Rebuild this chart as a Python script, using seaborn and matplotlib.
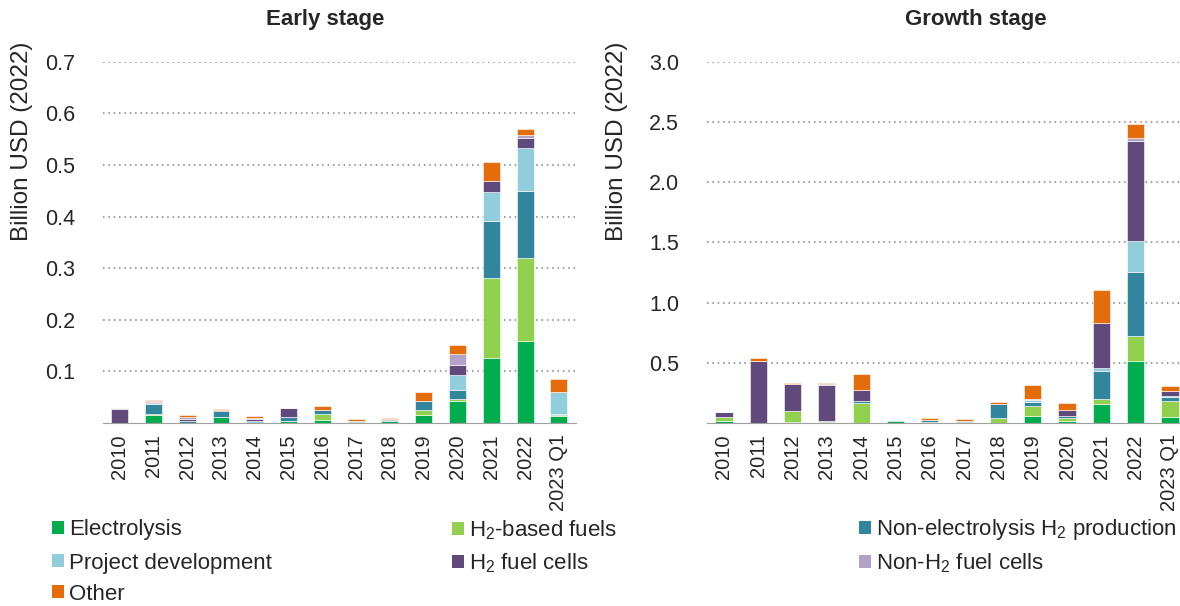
import numpy as np
import pandas as pd
import seaborn as sns
import matplotlib.pyplot as plt
from matplotlib.patches import Patch
from matplotlib.ticker import FixedLocator

sns.set_style('white')
plt.rcParams['font.family'] = ['Liberation Sans', 'DejaVu Sans']
plt.rcParams['mathtext.default'] = 'regular'
plt.rcParams['font.size'] = 14

cats = ['2010', '2011', '2012', '2013', '2014', '2015', '2016', '2017',
        '2018', '2019', '2020', '2021', '2022', '2023 Q1']

series = ['Electrolysis', 'H$_2$-based fuels', 'Non-electrolysis H$_2$ production',
          'Project development', 'H$_2$ fuel cells', 'Non-H$_2$ fuel cells', 'Other']
colors = ['#00AD4E', '#92D050', '#31859C', '#92CDDC', '#604A7B', '#B3A2C7', '#E46C0A']

# early stage, billion USD (2022)
electrolysis_early = [0, 0.016, 0, 0.011, 0, 0.0045, 0.005, 0.002, 0.003, 0.0155, 0.042, 0.1256, 0.1586, 0.0126]
h2fuels_early = [0, 0.002, 0, 0, 0, 0, 0.0116, 0, 0, 0.0104, 0.005, 0.156, 0.1618, 0.0026]
nonelec_early = [0, 0.019, 0.003, 0.012, 0, 0.008, 0.009, 0.002, 0.002, 0.0168, 0.0175, 0.1107, 0.1294, 0.0026]
projdev_early = [0, 0.002, 0, 0, 0.004, 0, 0, 0, 0, 0, 0.029, 0.0557, 0.0828, 0.0427]
fuelcells_early = [0.027, 0.001, 0.004, 0.003, 0.003, 0.017, 0, 0, 0.002, 0, 0.018, 0.0214, 0.020, 0]
nonh2_early = [0.003, 0.002, 0.004, 0, 0.0025, 0, 0, 0, 0, 0, 0.0227, 0, 0.005, 0]
other_early = [0, 0.002, 0.004, 0.002, 0.0045, 0, 0.0065, 0.003, 0.003, 0.0168, 0.0168, 0.0356, 0.012, 0.0252]

# growth stage
electrolysis_growth = [0.02, 0, 0.008, 0.008, 0, 0.017, 0.005, 0.008, 0, 0.056, 0.014, 0.156, 0.513, 0.05]
h2fuels_growth = [0.028, 0, 0.089, 0.008, 0.168, 0, 0.006, 0, 0.042, 0.087, 0.025, 0.042, 0.209, 0.136]
nonelec_growth = [0, 0, 0, 0, 0.014, 0.011, 0.017, 0.011, 0.112, 0.028, 0.02, 0.231, 0.529, 0.031]
projdev_growth = [0, 0, 0, 0, 0, 0, 0, 0, 0, 0.017, 0, 0.028, 0.262, 0.006]
fuelcells_growth = [0.045, 0.517, 0.229, 0.302, 0.089, 0, 0, 0, 0, 0, 0.047, 0.37, 0.83, 0.045]
nonh2_growth = [0, 0, 0, 0.008, 0, 0, 0, 0, 0.006, 0.008, 0, 0, 0.022, 0]
other_growth = [0, 0.022, 0.008, 0.006, 0.14, 0, 0.014, 0.014, 0.017, 0.123, 0.061, 0.276, 0.12, 0.036]

early = [electrolysis_early, h2fuels_early, nonelec_early, projdev_early,
         fuelcells_early, nonh2_early, other_early]
growth = [electrolysis_growth, h2fuels_growth, nonelec_growth, projdev_growth,
          fuelcells_growth, nonh2_growth, other_growth]

fig = plt.figure(figsize=(11.8, 6.06), dpi=100)
ax1 = fig.add_axes([0.087, 0.302, 0.401, 0.596])
ax2 = fig.add_axes([0.599, 0.302, 0.407, 0.596])


def draw(ax, data, ymax, yticks):
    bottom = np.zeros(len(cats))
    for vals, c in zip(data, colors):
        sns.barplot(x=cats, y=vals, bottom=bottom, color=c, width=0.5, saturation=1,
                    edgecolor='white', linewidth=0.4, ax=ax, zorder=3)
        bottom += np.array(vals)
    ax.set_xlim(-0.5, len(cats) - 0.5)
    ax.set_ylim(0, ymax)
    ax.set_yticks(yticks)
    ax.set_yticklabels([f'{t:.1f}' for t in yticks])
    ax.yaxis.grid(True, color='#808080', linestyle=(0, (1, 2.5)), linewidth=1.1)
    ax.set_axisbelow(True)
    for s in ['top', 'right', 'left']:
        ax.spines[s].set_visible(False)
    ax.spines['bottom'].set_color('#a0a0a0')
    ax.spines['bottom'].set_zorder(4)
    ax.tick_params(axis='y', length=0, pad=20, labelsize=15.5)
    ax.tick_params(axis='x', which='major', length=0, rotation=90, labelsize=14.5, pad=8)
    ax.xaxis.set_minor_locator(FixedLocator(np.arange(-0.5, len(cats), 1.0)))
    ax.tick_params(axis='x', which='minor', length=6, width=1, color='black', direction='out')
    ax.set_xlabel('')
    ax.set_ylabel('')


draw(ax1, early, 0.7, [0.1, 0.2, 0.3, 0.4, 0.5, 0.6, 0.7])
draw(ax2, growth, 3.0, [0.5, 1.0, 1.5, 2.0, 2.5, 3.0])

fig.text(325 / 1180, 1 - 19 / 606, 'Early stage', ha='center', va='center',
         fontsize=16, fontweight='bold')
fig.text(976 / 1180, 1 - 19 / 606, 'Growth stage', ha='center', va='center',
         fontsize=16, fontweight='bold')
fig.text(22 / 1180, 1 - 141 / 606, 'Billion USD (2022)', rotation=90,
         ha='center', va='center', fontsize=17.5)
fig.text(617 / 1180, 1 - 141 / 606, 'Billion USD (2022)', rotation=90,
         ha='center', va='center', fontsize=17.5)

# legend: one entry per slot so rows line up across columns
col_x = [52, 452, 859]
row_y = [530, 563, 594]
slots = [(0, 0), (1, 0), (2, 0), (0, 1), (1, 1), (2, 1), (0, 2)]
for name, c, (ci, ri) in zip(series, colors, slots):
    fig.legend([Patch(facecolor=c, edgecolor='none')], [name],
               loc='center left', bbox_to_anchor=(col_x[ci] / 1180, 1 - row_y[ri] / 606),
               frameon=False, fontsize=16, handlelength=0.55, handleheight=0.55,
               handletextpad=0.2, borderaxespad=0, borderpad=0)

fig.savefig('out.png', dpi=100)
